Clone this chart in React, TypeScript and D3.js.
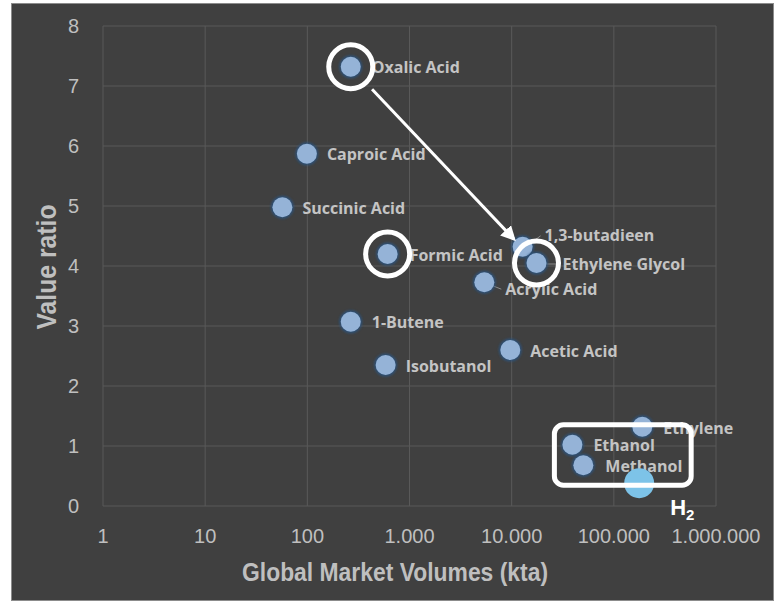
import React from "react";
import * as d3 from "d3";

const names = ["Oxalic Acid", "Caproic Acid", "Succinic Acid", "Formic Acid", "1,3-butadieen", "Ethylene Glycol", "Acrylic Acid", "1-Butene", "Isobutanol", "Acetic Acid", "Ethylene", "Ethanol", "Methanol"];
const volumes = [266, 99, 57, 611, 12800, 17500, 5400, 266, 584, 9700, 190000, 39300, 50300];
const ratios = [7.32, 5.87, 4.98, 4.2, 4.32, 4.05, 3.73, 3.07, 2.35, 2.6, 1.32, 1.02, 0.68];
const labelDx = [21, 20, 20, 22, 22, 26, 21, 21, 20, 20, 21, 21, 22];
const labelDy = [1, 1, 1, 1, -11, 1, 7, 1, 1, 1, 2, 1, 1];
const leader = [false, false, false, false, true, true, true, false, false, false, false, false, false];

const h2Volume = 177000;
const h2Ratio = 0.38;

const xTicks = [1, 10, 100, 1000, 10000, 100000, 1000000];
const yTicks = [0, 1, 2, 3, 4, 5, 6, 7, 8];

const highlighted = ["Oxalic Acid", "Formic Acid", "Ethylene Glycol"];
const boxed = ["Ethanol", "Methanol"];

const locale = d3.formatLocale({ decimal: ",", thousands: ".", grouping: [3], currency: ["", ""] });
const fmt = locale.format(",");

export default function App() {
  const W = 779, H = 603;
  const x = d3.scaleLog().domain([1, 1e6]).range([103, 716]);
  const y = d3.scaleLinear().domain([0, 8]).range([506, 26]);
  const font = "'Liberation Sans Narrow', 'Liberation Sans', sans-serif";
  const labelFont = "'Open Sans', sans-serif";
  const tickColor = "#bfbfbf";

  const idx = (n: string) => names.indexOf(n);
  const oi = idx("Oxalic Acid");
  const ei = idx("Ethylene Glycol");
  const ax0 = x(volumes[oi]), ay0 = y(ratios[oi]);
  const ax1 = x(volumes[ei]), ay1 = y(ratios[ei]);
  const ang = Math.atan2(ay1 - ay0, ax1 - ax0);
  const sx = ax0 + Math.cos(ang) * 31, sy = ay0 + Math.sin(ang) * 31;
  const ex = ax1 - Math.cos(ang) * 33, ey = ay1 - Math.sin(ang) * 33;

  const bx = boxed.map((n) => x(volumes[idx(n)]));
  const boxLeft = Math.min(...bx) - 18;
  const boxRight = x(h2Volume) + 52;
  const boxTop = y(ratios[idx("Ethanol")]) - 20;
  const boxBottom = y(h2Ratio) + 2;

  return (
    <svg width={W} height={H} style={{ position: "absolute", left: 0, top: 0 }}>
      <defs>
        <filter id="glow" x="-50%" y="-50%" width="200%" height="200%">
          <feGaussianBlur stdDeviation="0.8" />
        </filter>
        <marker id="ah" viewBox="0 0 10 10" refX="8" refY="5" markerWidth="5" markerHeight="5" orient="auto">
          <path d="M0,0 L10,5 L0,10 z" fill="#fff" />
        </marker>
      </defs>
      <rect x={0} y={0} width={W} height={H} fill="#fff" />
      <rect x={11.5} y={3.5} width={762} height={597} fill="#404040" stroke="#8c8c8c" strokeWidth={1} />
      {xTicks.map((t) => (
        <line key={"gx" + t} x1={x(t)} x2={x(t)} y1={y(8)} y2={y(0)} stroke="#595959" strokeWidth={1} />
      ))}
      {yTicks.map((t) => (
        <line key={"gy" + t} x1={x(1)} x2={x(1e6)} y1={y(t)} y2={y(t)} stroke="#595959" strokeWidth={1} />
      ))}
      {yTicks.map((t) => (
        <text key={"ty" + t} x={79} y={y(t)} dy="0.35em" textAnchor="end" fill={tickColor} fontFamily={font} fontSize={20}>{t}</text>
      ))}
      {xTicks.map((t) => (
        <text key={"tx" + t} x={x(t)} y={536} dy="0.35em" textAnchor="middle" fill={tickColor} fontFamily={font} fontSize={20}>{fmt(t)}</text>
      ))}
      <text x={395} y={572} dy="0.35em" textAnchor="middle" fill={tickColor} fontFamily={font} fontWeight="bold" fontSize={25} textLength={306} lengthAdjust="spacingAndGlyphs">Global Market Volumes (kta)</text>
      <text transform={`translate(47,267) rotate(-90)`} dy="0.35em" textAnchor="middle" fill={tickColor} fontFamily={font} fontWeight="bold" fontSize={27} textLength={125} lengthAdjust="spacingAndGlyphs">Value ratio</text>

      {names.map((n, i) => leader[i] ? (
        <line key={"ld" + i} x1={x(volumes[i]) + 2} y1={y(ratios[i]) + 1} x2={x(volumes[i]) + labelDx[i] - 4} y2={y(ratios[i]) + labelDy[i]} stroke="#8c8c8c" strokeWidth={1} />
      ) : null)}

      {names.map((n, i) => (
        <g key={"p" + i}>
          <circle cx={x(volumes[i])} cy={y(ratios[i])} r={11.5} fill="#2c5482" opacity={0.8} filter="url(#glow)" />
          <circle cx={x(volumes[i])} cy={y(ratios[i])} r={10} fill="#95b3d7" />
        </g>
      ))}
      {names.map((n, i) => (
        <text key={"l" + i} x={x(volumes[i]) + labelDx[i]} y={y(ratios[i]) + labelDy[i]} dy="0.35em" fill="#c4c4c4" fontFamily={labelFont} fontWeight="bold" fontSize={16}>{n}</text>
      ))}

      <circle cx={x(h2Volume)} cy={y(h2Ratio)} r={15} fill="#7dc3e8" />
      <text x={x(h2Volume) + 31} y={y(h2Ratio) + 24} dy="0.35em" fill="#fff" fontFamily={font} fontWeight="bold" fontSize={22}>
        H<tspan fontSize={15} dy="5">2</tspan>
      </text>

      {highlighted.map((n) => (
        <circle key={"h" + n} cx={x(volumes[idx(n)])} cy={y(ratios[idx(n)])} r={22} fill="none" stroke="#fff" strokeWidth={5} />
      ))}
      <line x1={sx} y1={sy} x2={ex} y2={ey} stroke="#fff" strokeWidth={3} markerEnd="url(#ah)" />
      <rect x={boxLeft} y={boxTop} width={boxRight - boxLeft} height={boxBottom - boxTop} rx={9} fill="none" stroke="#fff" strokeWidth={5} />
    </svg>
  );
}
